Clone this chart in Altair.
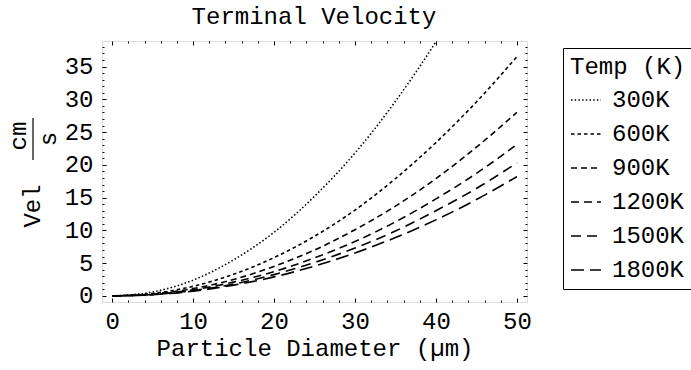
import altair as alt
import pandas as pd

# ---- data ----
diameter = [0, 5, 10, 15, 20, 25, 30, 35, 40, 45, 50]
temps = ["300K", "600K", "900K", "1200K", "1500K", "1800K"]
vel_300 = [0, 0.6, 2.4, 5.5, 9.7, 15.2, 21.8, 29.7, 38.8, 49.1, 60.6]
vel_600 = [0, 0.37, 1.46, 3.3, 5.84, 9.1, 13.1, 17.9, 23.4, 29.6, 36.5]
vel_900 = [0, 0.28, 1.12, 2.5, 4.5, 7.0, 10.1, 13.7, 17.9, 22.7, 28.0]
vel_1200 = [0, 0.23, 0.92, 2.1, 3.7, 5.8, 8.3, 11.3, 14.8, 18.7, 23.1]
vel_1500 = [0, 0.2, 0.81, 1.8, 3.25, 5.1, 7.3, 9.9, 13.0, 16.4, 20.3]
vel_1800 = [0, 0.18, 0.73, 1.64, 2.9, 4.55, 6.55, 8.9, 11.6, 14.7, 18.2]
series = [vel_300, vel_600, vel_900, vel_1200, vel_1500, vel_1800]
dashes = [[1.5, 2.2], [3.5, 3], [6, 4], [8, 5], [10, 6], [13, 6]]

x_ticks = [0, 10, 20, 30, 40, 50]
y_ticks = [0, 5, 10, 15, 20, 25, 30, 35]
x_minor = [v for v in range(0, 51, 2) if v % 10 != 0]
y_minor = [v for v in range(0, 39) if v % 5 != 0]

rows = []
for t, vals in zip(temps, series):
    for d, v in zip(diameter, vals):
        rows.append({"d": d, "v": v, "T": t})
df = pd.DataFrame(rows)

FONT = "Liberation Mono"
FS = 24
W, H = 425, 261

xs = alt.Scale(domain=[-1.25, 51.25], nice=False, zero=False)
ys = alt.Scale(domain=[-0.93, 38.9], nice=False, zero=False)
dash_scale = alt.Scale(domain=temps, range=dashes)

def tick_axis(orient, values, size):
    return alt.Axis(orient=orient, values=values, labels=False, domain=False,
                    ticks=True, tickSize=size, offset=-size, tickColor="black",
                    tickWidth=1, grid=False, title=None)

base = alt.Chart(df)

lines = base.mark_line(color="black", strokeWidth=1.6, interpolate="monotone", clip=True).encode(
    x=alt.X("d:Q", scale=xs, axis=alt.Axis(
        orient="bottom", values=x_ticks, ticks=False, tickSize=0, domain=False,
        grid=False, labelPadding=7, labelFont=FONT, labelFontSize=FS,
        labelColor="black", title="Particle Diameter (\u00b5m)", titleFont=FONT,
        titleFontSize=FS, titleFontWeight="normal", titleColor="black",
        titlePadding=3)),
    y=alt.Y("v:Q", scale=ys, axis=alt.Axis(
        orient="left", values=y_ticks, ticks=False, tickSize=0, domain=False,
        grid=False, labelPadding=9, labelFont=FONT, labelFontSize=FS,
        labelColor="black", title=None)),
    strokeDash=alt.StrokeDash("T:N", scale=dash_scale, sort=temps, legend=alt.Legend(
        title="Temp (K)", orient="none", legendX=461, legendY=7,
        strokeColor="black", padding=7, titleFont=FONT, titleFontSize=FS,
        titleFontWeight="normal", titleColor="black", titlePadding=5,
        labelFont=FONT, labelFontSize=FS, labelColor="black", labelOffset=10,
        symbolType="stroke", symbolSize=900, symbolStrokeWidth=1.5,
        symbolStrokeColor="black", rowPadding=6, cornerRadius=0)),
)

def ghost(xo, xv, yo, yv, size):
    return base.mark_point(opacity=0).encode(
        x=alt.X("d:Q", scale=xs, axis=tick_axis(xo, xv, size)),
        y=alt.Y("v:Q", scale=ys, axis=tick_axis(yo, yv, size)),
    )

g1 = ghost("bottom", x_ticks, "left", y_ticks, 4)
g2 = ghost("top", x_ticks, "right", y_ticks, 4)
g3 = ghost("bottom", x_minor, "left", y_minor, 2)
g4 = ghost("top", x_minor, "right", y_minor, 2)

one = alt.Data(values=[{"a": 1}])
def label(txt, x, y, angle=270, size=FS):
    return alt.Chart(one).mark_text(font=FONT, fontSize=size, angle=angle,
                                    color="black", baseline="middle", align="center").encode(
        text=alt.value(txt), x=alt.value(x), y=alt.value(y))

title_t = label("Terminal Velocity", 212, -24, angle=0)
vel_t = label("Vel", -69, 165)
cm_t = label("cm", -83, 95)
s_t = label("s", -53, 98)
bar = alt.Chart(one).mark_rule(color="black", strokeWidth=1.2).encode(
    x=alt.value(-69), y=alt.value(77), y2=alt.value(119))

chart = alt.layer(lines, g1, g2, g3, g4, title_t, vel_t, cm_t, s_t, bar).resolve_axis(
    x="independent", y="independent"
).properties(
    width=W, height=H,
    autosize=alt.AutoSizeParams(type="none"),
    padding={"left": 102, "top": 41, "right": 164, "bottom": 68},
).configure_view(stroke="black", strokeWidth=1.5).configure(background="white")

chart.save("out.html", embed_options={"renderer": "svg", "actions": False})
